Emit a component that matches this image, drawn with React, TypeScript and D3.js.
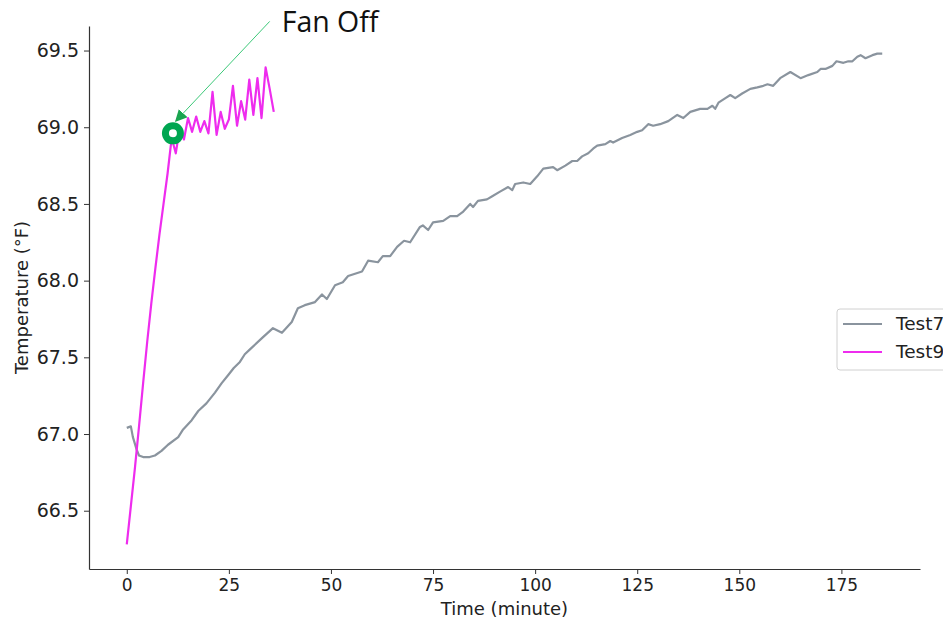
import * as d3 from 'd3';
import { useEffect, useRef } from 'react';

// Test7: [minute, °F]
const test7Time = [0, 1, 1.5, 2.4, 3, 4, 5.6, 6.9, 8.5, 10.1, 12.6, 13.8, 15.9, 17.5, 19.5, 21.6, 23.2, 25, 26.2, 27.7, 28.9,
    30.1, 33.3, 35.8, 38, 40.4, 41.9, 43.6, 46.1, 47.8, 49, 51, 52.9, 54.2, 57.6, 59.1, 61.5, 62.7, 64.5, 66.2, 67.9, 69.4,
    71.8, 72.5, 73.8, 75, 77.5, 79.2, 80.9, 82.4, 84.1, 84.8, 86, 88.2, 89.5, 91.4, 93.4, 94.4, 95.1, 97.1, 98.8, 100.5,
    102, 104.4, 105.4, 107.4, 109.1, 110.3, 111.5, 113, 114.2, 115.2, 117.2, 118.4, 119.1, 121.3, 123.3, 125, 126.2, 127.7,
    128.9, 130.6, 132.6, 134.8, 136.3, 138, 140.4, 142.2, 143.4, 144.1, 144.9, 146.6, 147.8, 149, 150.7, 152.7, 154.4,
    155.9, 156.9, 158.3, 160, 162.5, 165, 166.9, 169.1, 169.9, 171.1, 172.8, 173.8, 175.5, 176.7, 177.7, 178.9, 179.7,
    180.9, 182.6, 183.8, 185];
const test7Temp = [67.04, 67.05, 66.98, 66.90, 66.86, 66.85, 66.85, 66.86, 66.89, 66.93, 66.98, 67.03, 67.09, 67.15, 67.20,
    67.27, 67.33, 67.39, 67.43, 67.47, 67.52, 67.55, 67.63, 67.69, 67.66, 67.73, 67.82, 67.84, 67.86, 67.91, 67.88, 67.97,
    67.99, 68.03, 68.06, 68.13, 68.12, 68.16, 68.16, 68.22, 68.26, 68.25, 68.35, 68.36, 68.33, 68.38, 68.39, 68.42, 68.42,
    68.45, 68.50, 68.48, 68.52, 68.53, 68.55, 68.58, 68.61, 68.59, 68.63, 68.64, 68.63, 68.68, 68.73, 68.74, 68.72, 68.75,
    68.78, 68.78, 68.81, 68.83, 68.86, 68.88, 68.89, 68.91, 68.90, 68.93, 68.95, 68.97, 68.98, 69.02, 69.01, 69.02, 69.04,
    69.08, 69.06, 69.10, 69.12, 69.12, 69.14, 69.12, 69.16, 69.19, 69.21, 69.19, 69.22, 69.25, 69.26, 69.27, 69.28, 69.27,
    69.32, 69.36, 69.32, 69.34, 69.36, 69.38, 69.38, 69.40, 69.43, 69.42, 69.43, 69.43, 69.46, 69.47, 69.45, 69.47, 69.48,
    69.48];

// Test9: one reading per minute
const test9Time = [0, 1, 2, 3, 4, 5, 6, 7, 8, 9, 10, 11, 12, 13, 14, 15, 16, 17, 18, 19, 20, 21, 22, 23, 24, 25, 26, 27, 28,
    29, 30, 31, 32, 33, 34, 35, 36];
const test9Temp = [66.28, 66.53, 66.78, 67.05, 67.33, 67.60, 67.85, 68.08, 68.30, 68.50, 68.70, 68.93, 68.83, 69.00, 68.92,
    69.06, 68.97, 69.07, 68.97, 69.04, 68.96, 69.23, 68.95, 69.10, 68.99, 69.05, 69.27, 69.01, 69.17, 69.05, 69.31, 69.08,
    69.32, 69.06, 69.39, 69.25, 69.10];

const xTicks = [0, 25, 50, 75, 100, 125, 150, 175];
const yTicks = [66.5, 67.0, 67.5, 68.0, 68.5, 69.0, 69.5];
const seriesNames = ['Test7', 'Test9'];
const seriesColors = ['#8a949e', '#ee2cee'];

// annotation, in data units
const fanOffPoint = [11.3, 68.96];
const arrowTip = [12.0, 69.04];
const arrowTail = [35.0, 69.69];
const fanOffLabel = 'Fan Off';

function App() {
    const svgRef = useRef(null);

    useEffect(() => {
        const width = 943, height = 624;
        const svg = d3.select(svgRef.current);
        svg.selectAll('*').remove();

        const x = d3.scaleLinear().domain([-9.25, 194.25]).range([89, 920]);
        const y = d3.scaleLinear().domain([66.12, 69.66]).range([569, 26]);

        const font = 'DejaVu Sans, sans-serif';

        // axes
        const xAxis = svg.append('g')
            .attr('transform', `translate(0,${y.range()[0]})`)
            .call(d3.axisBottom(x).tickValues(xTicks).tickFormat(d3.format('d')).tickSize(5).tickPadding(5).tickSizeOuter(0));
        const yAxis = svg.append('g')
            .attr('transform', `translate(${x.range()[0]},0)`)
            .call(d3.axisLeft(y).tickValues(yTicks).tickFormat(d3.format('.1f')).tickSize(5).tickPadding(5).tickSizeOuter(0));

        [xAxis, yAxis].forEach(a => {
            a.select('.domain').attr('stroke', '#333').attr('stroke-width', 1.2);
            a.selectAll('.tick line').attr('stroke', '#333');
            a.selectAll('.tick text').attr('fill', '#222').attr('font-family', font);
        });
        xAxis.selectAll('.tick text').attr('font-size', 17);
        yAxis.selectAll('.tick text').attr('font-size', 19);

        svg.append('text')
            .attr('x', (x.range()[0] + x.range()[1]) / 2)
            .attr('y', 615)
            .attr('text-anchor', 'middle')
            .attr('font-family', font)
            .attr('font-size', 18)
            .attr('fill', '#222')
            .text('Time (minute)');

        svg.append('text')
            .attr('transform', `translate(28,${(y.range()[0] + y.range()[1]) / 2}) rotate(-90)`)
            .attr('text-anchor', 'middle')
            .attr('font-family', font)
            .attr('font-size', 18)
            .attr('fill', '#222')
            .text('Temperature (°F)');

        // lines
        const line = d3.line()
            .x(d => x(d[0]))
            .y(d => y(d[1]));

        const series = [
            test7Time.map((t, i) => [t, test7Temp[i]]),
            test9Time.map((t, i) => [t, test9Temp[i]]),
        ];

        series.forEach((data, i) => {
            svg.append('path')
                .datum(data)
                .attr('fill', 'none')
                .attr('stroke', seriesColors[i])
                .attr('stroke-width', 2.2)
                .attr('stroke-linejoin', 'round')
                .attr('d', line);
        });

        // annotation
        const defs = svg.append('defs');
        defs.append('marker')
            .attr('id', 'arrow')
            .attr('viewBox', '0 0 10 10')
            .attr('refX', 9).attr('refY', 5)
            .attr('markerWidth', 12).attr('markerHeight', 12)
            .attr('markerUnits', 'userSpaceOnUse')
            .attr('orient', 'auto')
            .append('path')
            .attr('d', 'M0,0 L10,5 L0,10 Z')
            .attr('fill', '#1aa550');

        svg.append('line')
            .attr('x1', x(arrowTail[0])).attr('y1', y(arrowTail[1]))
            .attr('x2', x(arrowTip[0])).attr('y2', y(arrowTip[1]))
            .attr('stroke', '#3cc878')
            .attr('stroke-width', 1)
            .attr('marker-end', 'url(#arrow)');

        svg.append('circle')
            .attr('cx', x(fanOffPoint[0]))
            .attr('cy', y(fanOffPoint[1]))
            .attr('r', 7.5)
            .attr('fill', 'none')
            .attr('stroke', '#00a651')
            .attr('stroke-width', 7);

        svg.append('text')
            .attr('x', x(arrowTail[0]) + 12)
            .attr('y', 32)
            .attr('font-family', 'Open Sans, sans-serif')
            .attr('font-size', 28.5)
            .attr('fill', '#111')
            .text(fanOffLabel);

        // legend
        const legend = svg.append('g').attr('transform', 'translate(837,309)');
        legend.append('rect')
            .attr('width', 130).attr('height', 61)
            .attr('rx', 3)
            .attr('fill', 'white')
            .attr('stroke', '#d0d0d0');
        seriesNames.forEach((name, i) => {
            const g = legend.append('g').attr('transform', `translate(0,${15 + i * 28})`);
            g.append('line')
                .attr('x1', 6).attr('x2', 45)
                .attr('stroke', seriesColors[i])
                .attr('stroke-width', 2);
            g.append('text')
                .attr('x', 59)
                .attr('dy', '0.35em')
                .attr('font-family', font)
                .attr('font-size', 18.5)
                .attr('fill', '#222')
                .text(name);
        });

        svg.attr('width', width).attr('height', height);
    }, []);

    return (
        <svg ref={svgRef} width={943} height={624}
            style={{ position: 'fixed', top: 0, left: 0, background: 'white' }} />
    );
}

export default App;
